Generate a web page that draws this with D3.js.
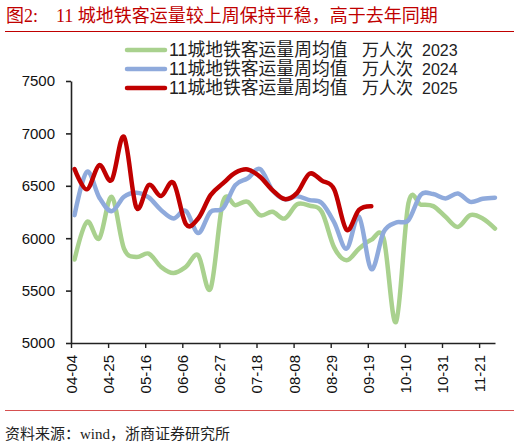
<!DOCTYPE html>
<meta charset="utf-8">
<title>11城地铁客运量</title>
<body>
<script src="https://cdn.jsdelivr.net/npm/d3@7"></script>
<style>
html, body {
    margin: 0;
    background: #fff;
}
svg {
    display: block;
    font-family: "Liberation Sans", "Noto Sans CJK SC", sans-serif;
}
.axis path, .axis line {
    stroke: #222;
}
.axis text {
    fill: #111;
    font-size: 15px;
    font-family: "Liberation Sans", sans-serif;
}
</style>
<script>
var width = 520,
    height = 442;

// weekly dates (month-day), one point per week
var weeks = ["04-06","04-13","04-20","04-27","05-04","05-11","05-18","05-25",
    "06-01","06-08","06-15","06-22","06-29","07-06","07-13","07-20","07-27",
    "08-03","08-10","08-17","08-24","08-31","09-07","09-14","09-21","09-28",
    "10-05","10-12","10-19","10-26","11-02","11-09","11-16","11-23","11-30"];

var tickLabels = ["04-04","04-25","05-16","06-06","06-27","07-18","08-08",
    "08-29","09-19","10-10","10-31","11-21"];

var yTicks = [5000, 5500, 6000, 6500, 7000, 7500];

var v2023 = [5796, 6156, 5997, 6395, 5901, 5821, 5853, 5726, 5668, 5726, 5837, 5519,
    6347, 6315, 6347, 6220, 6252, 6188, 6325, 6310, 6250, 5910, 5790, 5900, 5985,
    5995, 5200, 6335, 6320, 6306, 6204, 6108, 6220, 6188, 6092];

var v2024 = [6220, 6634, 6389, 6258, 6395, 6433, 6389, 6268, 6188, 6261, 6050, 6252,
    6284, 6507, 6570, 6660, 6459, 6370, 6400, 6363, 6335, 6150, 5900, 6204, 5705,
    6060, 6150, 6172, 6415, 6421, 6379, 6427, 6347, 6376, 6386];

var v2025 = [6660, 6466, 6698, 6554, 6968, 6293, 6507, 6402, 6529, 6135, 6188, 6411,
    6523, 6624, 6656, 6586, 6459, 6373, 6433, 6615, 6550, 6465, 6080, 6270, 6305];

var seriesNames = ["11城地铁客运量周均值", "万人次"];
var years = ["2023", "2024", "2025"];
var colors = ["#a9d18e", "#8faadc", "#c00000"];

var parse = d3.timeParse("%Y-%m-%d");
function md(s) { return parse("2023-" + s); }

var svg = d3.select("body").append("svg")
    .attr("width", width)
    .attr("height", height);

// title + rules
svg.append("text")
    .attr("x", 6)
    .attr("y", 22)
    .style("white-space", "pre")
    .style("font-size", "18px")
    .style("font-family", "'Liberation Serif', 'Noto Sans CJK SC', serif")
    .attr("fill", "#c00000")
    .text("图2:\u00a0\u00a0\u00a0\u00a011 城地铁客运量较上周保持平稳，高于去年同期");

svg.append("line")
    .attr("x1", 5).attr("x2", 514)
    .attr("y1", 31.5).attr("y2", 31.5)
    .attr("stroke", "#c00000")
    .attr("stroke-width", 1);

svg.append("line")
    .attr("x1", 5).attr("x2", 514)
    .attr("y1", 410.5).attr("y2", 410.5)
    .attr("stroke", "#d65050")
    .attr("stroke-width", 1);

svg.append("text")
    .attr("x", 5)
    .attr("y", 439)
    .style("font-size", "15px")
    .style("font-family", "'Liberation Serif', 'Noto Sans CJK SC', serif")
    .attr("fill", "#222")
    .text("资料来源：wind，浙商证券研究所");

var x = d3.scaleTime()
    .domain([md("04-04"), md("11-30")])
    .range([71, 495]);

var y = d3.scaleLinear()
    .domain([5000, 7500])
    .range([343, 81]);

svg.append("g")
    .attr("class", "axis")
    .attr("transform", "translate(71,0)")
    .call(d3.axisLeft(y).tickValues(yTicks).tickSize(5).tickSizeOuter(0).tickPadding(11)
        .tickFormat(d3.format("d")))
    .call(function(g) {
        g.selectAll("path, line").attr("stroke-width", 1.6);
    });

svg.append("g")
    .attr("class", "axis")
    .attr("transform", "translate(0,343)")
    .call(d3.axisBottom(x).tickValues(tickLabels.map(md)).tickSize(5).tickSizeOuter(0)
        .tickFormat(d3.timeFormat("%m-%d")))
    .call(function(g) {
        g.selectAll("path, line").attr("stroke-width", 1.4);
        g.selectAll("text")
            .attr("text-anchor", "end")
            .attr("transform", "rotate(-90)")
            .attr("x", -12)
            .attr("y", 0)
            .attr("dy", "0.36em");
    });

var line = d3.line()
    .x(function(d, i) { return x(md(weeks[i])); })
    .y(function(d) { return y(d); })
    .curve(d3.curveCardinal.tension(0));

svg.selectAll(".series")
    .data([v2023, v2024, v2025])
    .enter().append("path")
    .attr("class", "series")
    .attr("d", line)
    .attr("fill", "none")
    .attr("stroke", function(d, i) { return colors[i]; })
    .attr("stroke-width", 4.5)
    .attr("stroke-linecap", "round")
    .attr("stroke-linejoin", "round");

// legend
var legend = svg.selectAll(".legend")
    .data(years)
    .enter().append("g")
    .attr("class", "legend")
    .attr("transform", function(d, i) { return "translate(0," + (50 + i * 19) + ")"; });

legend.append("line")
    .attr("x1", 127).attr("x2", 165)
    .attr("stroke", function(d, i) { return colors[i]; })
    .attr("stroke-width", 4.5)
    .attr("stroke-linecap", "round");

legend.append("text")
    .attr("x", 169)
    .attr("y", 6)
    .style("font-size", "17.8px")
    .attr("fill", "#222")
    .text(seriesNames[0]);

legend.append("text")
    .attr("x", 362)
    .attr("y", 6)
    .style("font-size", "17px")
    .attr("fill", "#222")
    .text(seriesNames[1]);

legend.append("text")
    .attr("x", 422)
    .attr("y", 6)
    .style("font-size", "16px")
    .attr("fill", "#222")
    .text(function(d) { return d; });
</script>
